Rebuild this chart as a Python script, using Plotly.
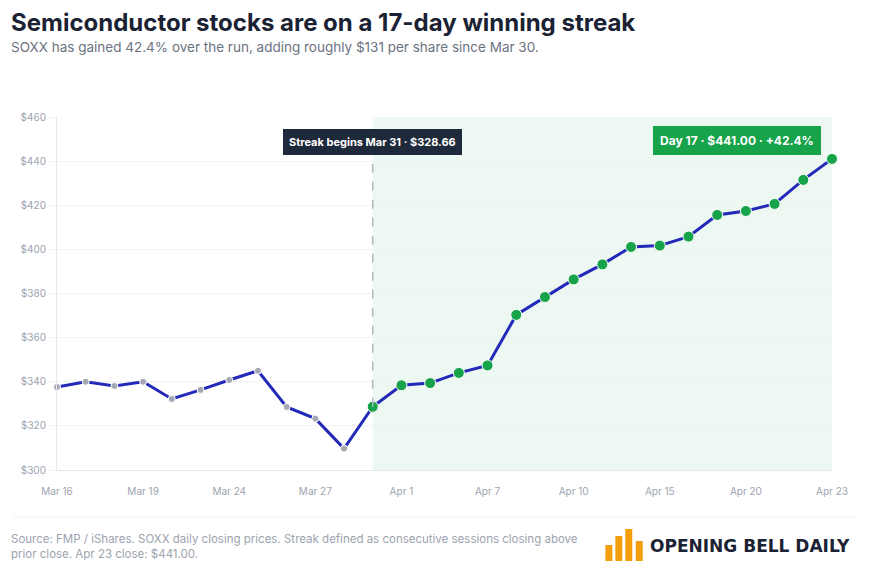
import plotly.graph_objects as go

dates = ["Mar 16", "Mar 17", "Mar 18", "Mar 19", "Mar 20", "Mar 23", "Mar 24", "Mar 25",
         "Mar 26", "Mar 27", "Mar 30", "Mar 31", "Apr 1", "Apr 2", "Apr 6", "Apr 7",
         "Apr 8", "Apr 9", "Apr 10", "Apr 13", "Apr 14", "Apr 15", "Apr 16", "Apr 17",
         "Apr 20", "Apr 21", "Apr 22", "Apr 23"]
prices = [337.6, 340.0, 338.1, 340.0, 332.2, 336.3, 340.8, 345.0,
          328.6, 323.3, 309.7, 328.66, 338.4, 339.4, 344.0, 347.4,
          370.3, 378.4, 386.4, 393.2, 401.1, 401.7, 405.8, 415.6,
          417.4, 420.6, 431.5, 441.0]
tick_labels = ["Mar 16", "Mar 19", "Mar 24", "Mar 27", "Apr 1", "Apr 7",
               "Apr 10", "Apr 15", "Apr 20", "Apr 23"]
y_ticks = [300, 320, 340, 360, 380, 400, 420, 440, 460]
streak_start = "Mar 31"

s_idx = dates.index(streak_start)
idx = list(range(len(dates)))
tickvals = [dates.index(t) for t in tick_labels]

# page-pixel helpers (page has an 8px body margin; plot area spans 54..832 x 117..470)
def px(xp):
    return (xp - 54) / 778

def py(yp):
    return (470 - yp) / 353

fig = go.Figure()

# shaded streak region
fig.add_shape(type="rect", xref="x", yref="paper", x0=s_idx, x1=len(dates) - 1,
              y0=0, y1=1, fillcolor="rgba(22,163,74,0.075)", line_width=0, layer="below")

fig.add_trace(go.Scatter(x=idx, y=prices, mode="lines",
                         line=dict(color="#2329b8", width=3), hoverinfo="skip",
                         cliponaxis=False, showlegend=False))
fig.add_trace(go.Scatter(x=idx[:s_idx], y=prices[:s_idx], mode="markers",
                         marker=dict(color="#a3a8b4", size=7, line=dict(color="white", width=1)),
                         cliponaxis=False, showlegend=False))
fig.add_trace(go.Scatter(x=idx[s_idx:], y=prices[s_idx:], mode="markers",
                         marker=dict(color="#16a34a", size=11, line=dict(color="white", width=1)),
                         cliponaxis=False, showlegend=False))

# dashed vertical marker
fig.add_shape(type="line", xref="x", yref="y", x0=s_idx, x1=s_idx,
              y0=prices[s_idx], y1=444, line=dict(color="#b4b8c2", width=1.5, dash="dash"))

fig.add_annotation(x=s_idx, y=448.8, xref="x", yref="y",
                   text="<b>Streak begins %s · $%.2f</b>" % (streak_start, prices[s_idx]),
                   showarrow=False, font=dict(family="Inter", size=11, color="white"),
                   bgcolor="#1e293b", bordercolor="#1e293b", borderpad=5, yanchor="middle")

gain = (prices[-1] / prices[s_idx - 1] - 1) * 100
fig.add_annotation(x=len(dates) - 1.4, y=449.5, xref="x", yref="y",
                   text="<b>Day %d · $%.2f · +%.1f%%</b>" % (len(dates) - s_idx, prices[-1], gain),
                   showarrow=False, font=dict(family="Inter", size=12, color="white"),
                   bgcolor="#16a34a", bordercolor="#16a34a", borderpad=6,
                   xanchor="right", yanchor="middle")

fig.add_annotation(xref="paper", yref="paper", x=px(6), y=py(47), xanchor="left", yanchor="middle",
                   text="SOXX has gained 42.4% over the run, adding roughly $131 per share since Mar 30.",
                   showarrow=False, font=dict(family="Inter", size=13.5, color="#6b7280"))
fig.add_annotation(xref="paper", yref="paper", x=px(6), y=py(530), xanchor="left", yanchor="top",
                   text="Source: FMP / iShares. SOXX daily closing prices. Streak defined as consecutive sessions closing above<br>prior close. Apr 23 close: $441.00.",
                   showarrow=False, align="left", font=dict(family="Inter", size=11.5, color="#9ca3af"))
fig.add_annotation(xref="paper", yref="paper", x=px(647), y=py(546), xanchor="left", yanchor="middle",
                   text="<b>OPENING BELL DAILY</b>", showarrow=False,
                   font=dict(family="DejaVu Sans", size=17, color="#1a2233"))

fig.add_shape(type="line", xref="paper", yref="paper", x0=px(10), x1=px(855), y0=py(517), y1=py(517),
              line=dict(color="#eef0f3", width=1))
bars = [(604.5, 545), (614.5, 536), (624.5, 529), (635, 541)]
for bx, top in bars:
    fig.add_shape(type="rect", xref="paper", yref="paper", x0=px(bx), x1=px(bx + 7),
                  y0=py(561), y1=py(top), fillcolor="#f59e0b", line_width=0)

fig.update_layout(
    width=862, height=577,
    margin=dict(l=46, r=38, t=109, b=115),
    paper_bgcolor="white", plot_bgcolor="white",
    font=dict(family="Inter", color="#9ca3af"),
    title=dict(text="<b>Semiconductor stocks are on a 17-day winning streak</b>",
               xref="container", yref="container", x=3 / 862, y=1 - 15 / 577,
               xanchor="left", yanchor="middle",
               font=dict(family="Inter", size=24, color="#1a2233")),
    xaxis=dict(range=[0, len(dates) - 1], tickvals=tickvals, ticktext=tick_labels,
               showgrid=False, zeroline=False, showline=True, linecolor="#e5e7eb",
               tickfont=dict(size=10, color="#9ca3af"), ticks="", ticklabelstandoff=12),
    yaxis=dict(range=[300, 460], tickvals=y_ticks, ticktext=["$%d" % v for v in y_ticks],
               showgrid=True, gridcolor="#f1f2f4", zeroline=False, showline=True,
               linecolor="#e5e7eb", tickfont=dict(size=10, color="#9ca3af"),
               ticks="outside", ticklen=8, tickcolor="#f1f2f4"),
)

fig.write_html("out.html")
